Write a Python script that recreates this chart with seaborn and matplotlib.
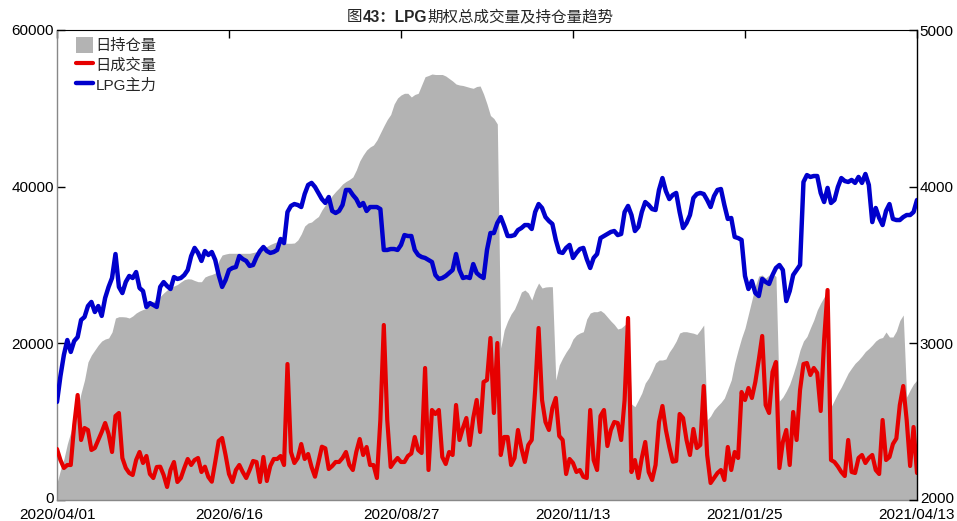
import numpy as np
import pandas as pd
import matplotlib
matplotlib.use("Agg")
import matplotlib.pyplot as plt
import matplotlib.transforms as mtransforms
import seaborn as sns
from matplotlib.patches import Patch
from matplotlib.lines import Line2D

# ---------------- data ----------------
tick_labels = ['2020/04/01', '2020/6/16', '2020/08/27', '2020/11/13', '2021/01/25', '2021/04/13']
tick_pos = [0, 50, 100, 150, 200, 250]

open_interest = [
    2170, 3830, 5234, 7149, 8681, 10340, 11745, 13660, 15319, 17617,
    18511, 19149, 19787, 20298, 20553, 20681, 21447, 23234, 23400, 23400,
    23362, 23234, 23489, 23872, 24128, 24319, 24447, 24894, 25315, 25660,
    25979, 26426, 26809, 27064, 27319, 27511, 27830, 28124, 28238, 28213,
    28021, 27868, 27868, 28468, 28660, 28787, 28979, 30511, 31277, 31404,
    31494, 31494, 31494, 31494, 31494, 31494, 31494, 31596, 31698, 31915,
    32132, 32362, 32617, 32809, 32975, 32898, 32809, 32770, 32770, 32809,
    33192, 33957, 34979, 35362, 35489, 35872, 36192, 37021, 37660, 38170,
    38872, 39383, 39830, 40340, 40660, 40915, 41234, 42128, 43277, 44043,
    44681, 45064, 45319, 45957, 46851, 47745, 48574, 49213, 50553, 51319,
    51702, 51919, 51919, 51447, 51766, 51919, 52979, 54038, 54191, 54383,
    54319, 54319, 54319, 54128, 53809, 53489, 53106, 52979, 52915, 52787,
    52660, 52557, 52787, 52851, 51830, 50553, 49085, 48702, 48000, 19404,
    21702, 22851, 23745, 24383, 25404, 26553, 26809, 26426, 25532, 26809,
    27702, 27064, 27192, 27230, 27230, 15319, 17234, 18128, 18894, 19532,
    20553, 21064, 21319, 21485, 23106, 23872, 24038, 24038, 24191, 23872,
    23362, 22851, 22404, 21830, 21957, 22340, 22596, 12255, 11911, 12766,
    13660, 14936, 15574, 16468, 17489, 17872, 17872, 18000, 18894, 19532,
    20298, 21319, 21485, 21485, 21383, 21294, 21128, 21702, 22340, 10213,
    10723, 11489, 12000, 12447, 13021, 14170, 15319, 17489, 19149, 20681,
    21957, 23745, 25532, 27319, 28596, 28723, 28340, 28723, 28915, 28532,
    12638, 13149, 13915, 14809, 16085, 17489, 19149, 20298, 20872, 21957,
    22979, 24255, 25149, 25915, 26426, 11872, 12766, 13660, 14426, 15319,
    16213, 16851, 17451, 17872, 18383, 18957, 19340, 19787, 20298, 20617,
    20745, 21447, 20809, 20809, 21574, 22915, 23617, 13149, 14043, 14809,
    15319,
]

volume = [
    6511, 5106, 4085, 4468, 4468, 9574, 13404, 7660, 9191, 8936,
    6383, 6638, 7660, 8681, 9830, 8426, 6128, 10723, 11106, 5362,
    4085, 3447, 3191, 5106, 6128, 4723, 5617, 3319, 2809, 4213,
    4251, 3191, 1660, 3830, 4851, 2298, 2809, 4085, 5234, 4468,
    5106, 5362, 3574, 4251, 2936, 2336, 4851, 7532, 7915, 5745,
    3319, 2298, 3830, 4468, 3574, 2809, 3830, 4979, 4851, 2298,
    5489, 2426, 4340, 5234, 5234, 5617, 4468, 17362, 6128, 4723,
    5362, 7149, 5234, 5872, 4213, 2974, 4851, 6804, 6600, 3957,
    4340, 4851, 4851, 5362, 6128, 4468, 3830, 6128, 7787, 5745,
    6766, 4468, 4468, 2809, 10213, 22340, 10213, 4213, 4851, 5362,
    4851, 4851, 5617, 5936, 8043, 6383, 6000, 16851, 3830, 11489,
    10979, 11489, 5489, 4596, 6128, 5745, 12128, 7660, 9191, 10468,
    7021, 10468, 12766, 8681, 15064, 15319, 20681, 11106, 20043, 5745,
    8043, 8043, 4468, 5362, 8936, 6638, 4851, 7021, 7660, 14043,
    21957, 12766, 9957, 8936, 11745, 13021, 8170, 7660, 3319, 5234,
    4723, 3574, 3830, 2974, 2809, 11489, 5106, 3830, 10723, 11489,
    6894, 8936, 9957, 9830, 7660, 12766, 23234, 3574, 5106, 2809,
    5362, 7404, 3574, 2553, 4468, 9957, 12000, 8936, 6766, 4889,
    4979, 10979, 10468, 7660, 5745, 9064, 6638, 7021, 14553, 5745,
    2170, 2809, 3447, 3830, 2553, 6766, 3830, 6128, 5362, 13787,
    12766, 14298, 13021, 15064, 17872, 20936, 12128, 11106, 16340, 17617,
    4085, 7404, 8936, 4468, 11234, 7660, 14043, 17362, 17489, 15957,
    16851, 16213, 11362, 20426, 26809, 5106, 4851, 4277, 3574, 3064,
    7660, 3574, 3447, 5362, 5745, 4723, 5362, 5745, 3830, 3319,
    10213, 5106, 5489, 7149, 7851, 12128, 14553, 10213, 4340, 9319,
    3447,
]

price = [
    2626, 2791, 2926, 3021, 2945, 3015, 3040, 3149, 3168, 3238,
    3264, 3200, 3238, 3175, 3290, 3360, 3417, 3570, 3360, 3321,
    3392, 3430, 3417, 3455, 3353, 3334, 3232, 3257, 3245, 3232,
    3360, 3391, 3366, 3347, 3423, 3411, 3417, 3436, 3468, 3557,
    3609, 3577, 3526, 3589, 3564, 3583, 3532, 3436, 3360, 3404,
    3468, 3481, 3487, 3557, 3538, 3526, 3494, 3500, 3551, 3589,
    3615, 3589, 3577, 3583, 3596, 3666, 3640, 3838, 3877, 3889,
    3883, 3870, 3953, 4011, 4024, 3998, 3960, 3921, 3896, 3934,
    3845, 3832, 3845, 3883, 3979, 3979, 3947, 3921, 3877, 3896,
    3845, 3870, 3870, 3870, 3857, 3596, 3596, 3602, 3602, 3596,
    3628, 3691, 3685, 3685, 3596, 3564, 3551, 3545, 3532, 3519,
    3436, 3411, 3417, 3430, 3449, 3468, 3570, 3468, 3417, 3423,
    3417, 3506, 3449, 3430, 3417, 3596, 3704, 3704, 3768, 3806,
    3749, 3685, 3685, 3691, 3723, 3736, 3755, 3755, 3730, 3838,
    3889, 3864, 3806, 3781, 3762, 3660, 3583, 3577, 3609, 3628,
    3545, 3577, 3602, 3609, 3538, 3481, 3545, 3570, 3672, 3685,
    3698, 3711, 3717, 3691, 3698, 3838, 3877, 3819, 3717, 3743,
    3838, 3902, 3883, 3857, 3851, 3979, 4055, 3972, 3921, 3947,
    3960, 3838, 3736, 3768, 3819, 3928, 3953, 3960, 3953, 3915,
    3870, 3940, 3979, 3985, 3883, 3794, 3800, 3679, 3672, 3660,
    3430, 3347, 3398, 3321, 3302, 3411, 3392, 3379, 3436, 3481,
    3500, 3468, 3270, 3334, 3436, 3468, 3500, 4030, 4074, 4062,
    4068, 4068, 3960, 3902, 3992, 3896, 3915, 3998, 4055, 4036,
    4030, 4043, 4024, 4062, 4024, 4081, 4011, 3774, 3864, 3800,
    3755, 3845, 3889, 3794, 3787, 3787, 3806, 3819, 3819, 3838,
    3915,
]

series_names = ['日持仓量', '日成交量', 'LPG主力']
title_parts = ['图', '43：LPG', '期权总成交量及持仓量趋势']

# ---------------- style ----------------
sns.set_style("white")
plt.rcParams['font.family'] = ['Liberation Sans', 'Noto Sans CJK SC', 'DejaVu Sans']
plt.rcParams['axes.unicode_minus'] = False

GREY = '#b3b3b3'
RED = '#e60000'
BLUE = '#0000cc'

df = pd.DataFrame({
    'idx': np.arange(len(price)),
    'oi': open_interest,
    'vol': volume,
    'price': price,
})

fig = plt.figure(figsize=(9.57, 5.21), dpi=100)
ax = fig.add_axes([57 / 957, 1 - 500 / 521, 860 / 957, 470 / 521])
ax2 = ax.twinx()

ax.fill_between(df['idx'], 0, df['oi'], color=GREY, lw=0, zorder=1)
sns.lineplot(data=df, x='idx', y='vol', ax=ax, color=RED, lw=3.0, legend=False, zorder=3)
sns.lineplot(data=df, x='idx', y='price', ax=ax2, color=BLUE, lw=3.2, legend=False, zorder=3)

ax.set_xlim(0, 250)
ax.set_ylim(0, 60000)
ax2.set_ylim(2000, 5000)
ax.set_yticks([0, 20000, 40000, 60000])
ax2.set_yticks([2000, 3000, 4000, 5000])
ax.set_xticks(tick_pos)
ax.set_xticklabels(tick_labels)
ax.set_xlabel('')
ax.set_ylabel('')
ax2.set_ylabel('')

for a in (ax, ax2):
    a.tick_params(axis='both', which='both', labelsize=11, direction='in', length=6,
                  width=1, colors='black', pad=2)
ax.tick_params(axis='x', bottom=False, top=True, labelbottom=True, pad=5.5)
ax2.tick_params(axis='x', bottom=False, top=False)
ax.tick_params(axis='y', left=True, right=False)
ax2.tick_params(axis='y', left=False, right=True)

# nudge the bottom y labels ("0", "2000") up a touch so they don't collide with the dates
fig.canvas.draw()
shift = mtransforms.ScaledTranslation(0, 2 / 72, fig.dpi_scale_trans)
for lab in [ax.get_yticklabels()[0], ax2.get_yticklabels()[0]]:
    lab.set_transform(lab.get_transform() + shift)

for s in ['left', 'bottom']:
    ax.spines[s].set_color('#888888')
    ax.spines[s].set_linewidth(1)
ax.spines['top'].set_color('black')
ax.spines['right'].set_visible(False)
for s in ['left', 'bottom', 'top']:
    ax2.spines[s].set_visible(False)
ax2.spines['right'].set_color('black')
ax2.spines['right'].set_linewidth(1)

# legend
handles = [
    Patch(facecolor=GREY, edgecolor='none'),
    Line2D([0], [0], color=RED, lw=3.0),
    Line2D([0], [0], color=BLUE, lw=3.2),
]
ax2.legend(handles, series_names, loc='upper left', bbox_to_anchor=(0.022, 0.985),
           frameon=False, fontsize=11, handlelength=1.1, handleheight=1.25,
           handletextpad=0.2, labelspacing=0.22, borderpad=0, borderaxespad=0)

# title (mixed weight)
t1 = fig.text(347 / 957, 1 - 17 / 521, title_parts[0], fontsize=11.2, ha='left', va='center')
t2 = ax.annotate(title_parts[1], xy=(1, 0), xycoords=t1, ha='left', va='bottom',
                 fontsize=11.2, fontweight='bold', annotation_clip=False)
t3 = ax.annotate(title_parts[2], xy=(1, 0), xycoords=t2, ha='left', va='bottom',
                 fontsize=11.2, annotation_clip=False)

fig.savefig('out.png', dpi=100)
